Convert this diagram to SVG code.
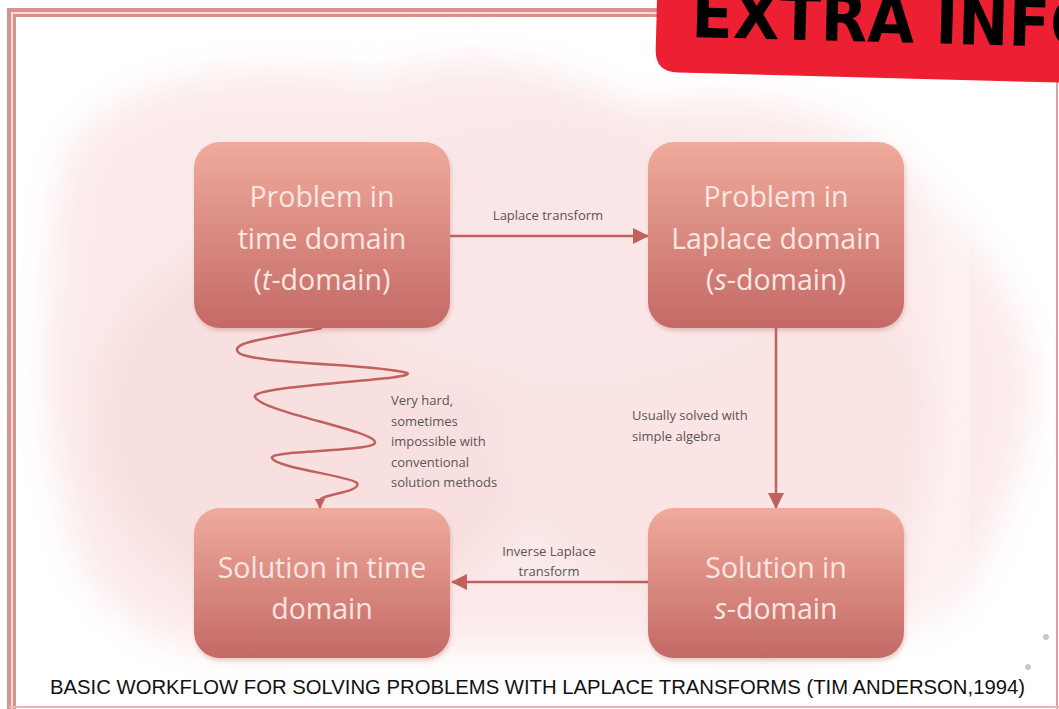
<svg xmlns="http://www.w3.org/2000/svg" width="1059" height="709" viewBox="0 0 1059 709">
<defs>
<linearGradient id="ng" x1="0" y1="0" x2="0" y2="1">
<stop offset="0" stop-color="#efab9b"/>
<stop offset="1" stop-color="#c46966"/>
</linearGradient>
<filter id="blur" x="-20%" y="-20%" width="140%" height="140%"><feGaussianBlur stdDeviation="18"/></filter>
<filter id="sh" x="-10%" y="-10%" width="120%" height="130%"><feGaussianBlur stdDeviation="2"/></filter>
<marker id="ah" markerWidth="10" markerHeight="10" refX="9" refY="5" orient="auto" markerUnits="userSpaceOnUse" viewBox="0 0 10 10">
<path d="M0,0 L10,5 L0,10 z" fill="#c0615d"/>
</marker>
<marker id="ahs" markerWidth="16" markerHeight="16" refX="15" refY="8" orient="auto" markerUnits="userSpaceOnUse" viewBox="0 0 16 16">
<path d="M0,0 L16,8 L0,16 z" fill="#c0615d"/>
</marker>
<style>
.node rect.box{fill:url(#ng);}
.node rect.shadow{fill:#b56060;opacity:0.3;}
.nt{font-family:"Open Sans","Noto Sans",sans-serif;font-size:28.5px;fill:#fbe6e1;text-anchor:middle;}
.lbl{font-family:"Open Sans","Noto Sans",sans-serif;font-size:13px;fill:#5a5556;}
.conn{fill:none;stroke:#c0615d;stroke-width:2.5;}
.frame{fill:none;stroke:#d9938d;}
</style>
</defs>
<rect width="1059" height="709" fill="#ffffff"/>
<!-- watercolor background -->
<g id="background" filter="url(#blur)">
<path d="M70,150 C120,70 260,60 380,80 C480,40 560,70 640,110 C720,90 820,100 900,160 C960,220 1010,280 1030,360 C1040,440 1000,520 960,600 C900,650 800,660 700,650 L300,650 C200,660 120,640 80,560 C50,470 40,380 50,300 C55,240 55,190 70,150 z" fill="#fbeaea"/>
<ellipse cx="320" cy="420" rx="230" ry="200" fill="#f9e0e0"/>
<ellipse cx="720" cy="430" rx="220" ry="180" fill="#fae4e4"/>
<ellipse cx="560" cy="250" rx="260" ry="140" fill="#fae6e6"/>
</g>
<path d="M905,30 C950,200 1000,400 900,709" fill="none" stroke="#ffffff" stroke-width="30" opacity="0.5" filter="url(#blur)"/>
<!-- frame -->
<g id="frame">
<path class="frame" d="M9,709 L9,10 L700,10" stroke-width="4"/>
<path class="frame" d="M14.5,709 L14.5,15.5 L700,15.5" stroke-width="3"/>
<path d="M12,709 L12,13 L700,13" fill="none" stroke="#f6dcd8" stroke-width="2"/>
<line x1="1057" y1="80" x2="1057" y2="709" stroke="#e07c7c" stroke-width="1.5"/>
<line x1="9" y1="707" x2="1059" y2="707" stroke="#e8b6b2" stroke-width="2"/>
</g>
<!-- connectors -->
<g id="connectors">
<line class="conn" x1="450" y1="236" x2="648" y2="236" marker-end="url(#ahs)"/>
<line class="conn" x1="776" y1="328" x2="776" y2="508" marker-end="url(#ahs)"/>
<line class="conn" x1="648" y1="582" x2="452" y2="582" marker-end="url(#ahs)"/>
<path class="conn" d="M322,328 C270,338 230,342 238,352 C246,364 380,364 407,373 C420,380 250,385 255,397 C262,412 372,430 375,442 C378,452 268,450 272,458 C276,468 350,476 357,483 C362,492 322,494 320,500 L320,508" marker-end="url(#ah)"/>
<text class="lbl" x="548" y="220" text-anchor="middle">Laplace transform</text>
<text class="lbl" x="391" y="405">Very hard,</text>
<text class="lbl" x="391" y="425.5">sometimes</text>
<text class="lbl" x="391" y="446">impossible with</text>
<text class="lbl" x="391" y="466.5">conventional</text>
<text class="lbl" x="391" y="487">solution methods</text>
<text class="lbl" x="632" y="420">Usually solved with</text>
<text class="lbl" x="632" y="441">simple algebra</text>
<text class="lbl" x="549" y="556" text-anchor="middle">Inverse Laplace</text>
<text class="lbl" x="549" y="576" text-anchor="middle">transform</text>
</g>
<!-- nodes -->
<g id="node-problem-time" class="node">
<rect class="shadow" x="195" y="145" width="256" height="186" rx="26" filter="url(#sh)"/>
<rect class="box" x="194" y="142" width="256" height="186" rx="26"/>
<text class="nt" x="322" y="207">Problem in</text>
<text class="nt" x="322" y="249">time domain</text>
<text class="nt" x="322" y="290">(<tspan font-style="italic">t</tspan>-domain)</text>
</g>
<g id="node-problem-laplace" class="node">
<rect class="shadow" x="649" y="145" width="256" height="186" rx="26" filter="url(#sh)"/>
<rect class="box" x="648" y="142" width="256" height="186" rx="26"/>
<text class="nt" x="776" y="207">Problem in</text>
<text class="nt" x="776" y="249">Laplace domain</text>
<text class="nt" x="776" y="290">(<tspan font-style="italic">s</tspan>-domain)</text>
</g>
<g id="node-solution-time" class="node">
<rect class="shadow" x="195" y="511" width="256" height="150" rx="26" filter="url(#sh)"/>
<rect class="box" x="194" y="508" width="256" height="150" rx="26"/>
<text class="nt" x="322" y="578">Solution in time</text>
<text class="nt" x="322" y="619">domain</text>
</g>
<g id="node-solution-s" class="node">
<rect class="shadow" x="649" y="511" width="256" height="150" rx="26" filter="url(#sh)"/>
<rect class="box" x="648" y="508" width="256" height="150" rx="26"/>
<text class="nt" x="776" y="578">Solution in</text>
<text class="nt" x="776" y="619"><tspan font-style="italic">s</tspan>-domain</text>
</g>
<!-- dots -->
<circle cx="1046" cy="637" r="3" fill="#c8c8c8"/>
<circle cx="1028" cy="667" r="3" fill="#c8c8c8"/>
<!-- caption -->
<text x="50" y="694" font-family="'Liberation Sans Narrow','Liberation Sans',sans-serif" font-size="21" fill="#111" textLength="975" lengthAdjust="spacingAndGlyphs">BASIC WORKFLOW FOR SOLVING PROBLEMS WITH LAPLACE TRANSFORMS (TIM ANDERSON,1994)</text>
<!-- banner -->
<g id="extra-info" transform="rotate(1.5 657 0)">
<path d="M657,-40 L1100,-40 L1100,72 L680,72 Q657,72 657,50 z" fill="#ec2032"/>
<text x="692" y="36" font-family="'DejaVu Sans',sans-serif" font-weight="bold" font-size="66" fill="#000" textLength="410" lengthAdjust="spacingAndGlyphs">EXTRA INFO</text>
</g>
</svg>
